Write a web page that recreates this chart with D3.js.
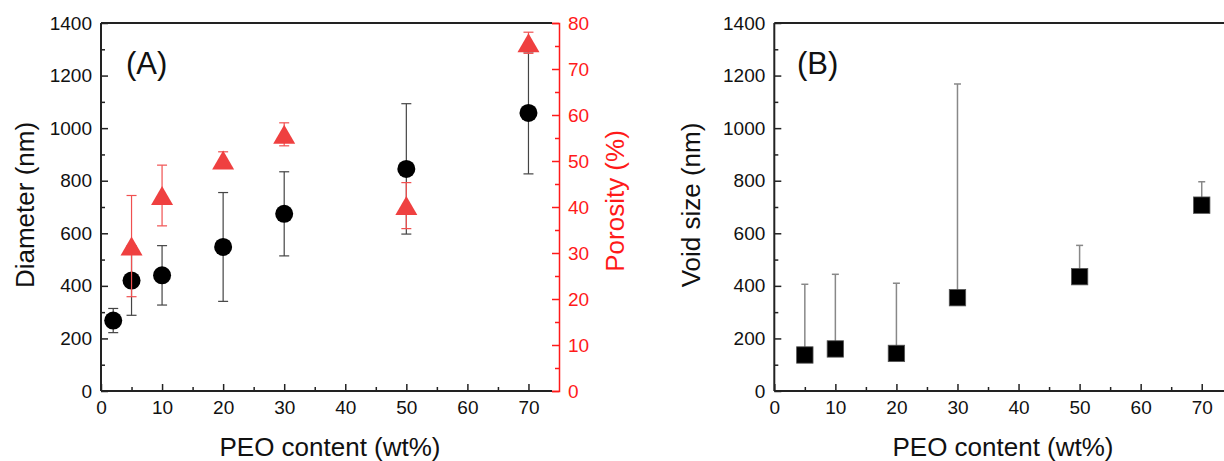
<!DOCTYPE html>
<html>
<head>
<meta charset="utf-8">
<script src="https://cdn.jsdelivr.net/npm/d3@7"></script>
<style>
  body { margin: 0; background: #fff; }
  text { font-family: "Liberation Sans", Arial, sans-serif; }
</style>
</head>
<body>
<svg id="chart" width="1224" height="461"></svg>
<script>
// PEO content (wt%) for each sample
var peo = [2, 5, 10, 20, 30, 50, 70];
var diameter = [268, 420, 440, 548, 674, 845, 1058];
var diameterSd = [46, 132, 113, 207, 160, 248, 232];

var porosityPeo = [5, 10, 20, 30, 50, 70];
var porosity = [31.5, 42.5, 50.2, 55.8, 40.3, 75.7];
var porositySd = [11, 6.6, 1.8, 2.5, 5, 2.3];

var voidPeo = [5, 10, 20, 30, 50, 70];
var voidSize = [137, 160, 143, 355, 435, 707];
var voidSd = [269, 284, 267, 813, 119, 89];

var xTicks = [0, 10, 20, 30, 40, 50, 60, 70];
var xMinor = [5, 15, 25, 35, 45, 55, 65];
var yTicks = [0, 200, 400, 600, 800, 1000, 1200, 1400];
var yMinor = [100, 300, 500, 700, 900, 1100, 1300];
var pTicks = [0, 10, 20, 30, 40, 50, 60, 70, 80];
var pMinor = [5, 15, 25, 35, 45, 55, 65, 75];

var svg = d3.select("#chart");
var red = "#ff1a1a";

function panel(left, right, frameRight, letter, yTitle, labelX, titleX, xTitleX) {
  var g = svg.append("g");
  var x = d3.scaleLinear().domain([0, 75]).range([left, right]);
  var y = d3.scaleLinear().domain([0, 1400]).range([391, 23]);

  g.append("g").attr("transform", "translate(0,391)")
    .call(d3.axisBottom(x).tickValues(xTicks).tickSize(-7).tickPadding(10).tickFormat(d3.format("d")));
  g.append("g").attr("transform", "translate(0,391)")
    .call(d3.axisBottom(x).tickValues(xMinor).tickSize(-4).tickFormat(""));
  g.append("g").attr("transform", "translate(" + left + ",0)")
    .call(d3.axisLeft(y).tickValues(yTicks).tickSize(-7).tickPadding(9).tickFormat(d3.format("d")));
  g.append("g").attr("transform", "translate(" + left + ",0)")
    .call(d3.axisLeft(y).tickSize(-4).tickValues(yMinor).tickFormat(""));

  g.selectAll(".domain").remove();
  g.selectAll(".tick line").attr("stroke", "#222").attr("stroke-width", 1.5);
  g.selectAll(".tick text").attr("font-size", 19).attr("fill", "#111");

  // frame: top, bottom, left
  [[left, 23, frameRight, 23], [left, 391, frameRight, 391], [left, 23, left, 391]].forEach(function (s) {
    g.append("line").attr("x1", s[0]).attr("y1", s[1]).attr("x2", s[2]).attr("y2", s[3])
      .attr("stroke", "#222").attr("stroke-width", 2);
  });

  g.append("text").attr("x", labelX).attr("y", 74).text(letter)
    .attr("font-family", "Lato, sans-serif").attr("font-size", 31).attr("fill", "#111");

  g.append("text").attr("transform", "translate(" + titleX + ",205) rotate(-90)")
    .attr("text-anchor", "middle").attr("font-size", 26).attr("fill", "#111").text(yTitle);

  g.append("text").attr("x", xTitleX).attr("y", 456)
    .attr("text-anchor", "middle").attr("font-size", 26).attr("fill", "#111")
    .text("PEO content (wt%)");
  return {g: g, x: x, y: y};
}

// ---- panel A ----
var A = panel(101, 559, 552, "(A)", "Diameter (nm)", 126, 34, 330);

var pY = d3.scaleLinear().domain([0, 80]).range([391, 23]);
var ra = A.g.append("g").attr("transform", "translate(559,0)")
  .call(d3.axisRight(pY).tickValues(pTicks).tickSize(-7).tickPadding(9));
var rm = A.g.append("g").attr("transform", "translate(559,0)")
  .call(d3.axisRight(pY).tickValues(pMinor).tickSize(-4).tickFormat(""));
rm.select(".domain").remove();
rm.selectAll(".tick line").attr("stroke", red).attr("stroke-width", 1.5);
ra.select(".domain").attr("stroke", red).attr("stroke-width", 1.5);
ra.selectAll(".tick line").attr("stroke", red).attr("stroke-width", 1.5);
ra.selectAll(".tick text").attr("fill", red).attr("font-size", 19);

A.g.append("text").attr("transform", "translate(624,201) rotate(-90)")
  .attr("text-anchor", "middle").attr("font-size", 26).attr("fill", red).text("Porosity (%)");

// diameter error bars + circles
var dErr = A.g.append("g").attr("stroke", "#444").attr("stroke-width", 1.2);
peo.forEach(function (p, i) {
  var cx = A.x(p), lo = A.y(diameter[i] - diameterSd[i]), hi = A.y(diameter[i] + diameterSd[i]);
  dErr.append("line").attr("x1", cx).attr("x2", cx).attr("y1", lo).attr("y2", hi);
  dErr.append("line").attr("x1", cx - 5).attr("x2", cx + 5).attr("y1", lo).attr("y2", lo);
  dErr.append("line").attr("x1", cx - 5).attr("x2", cx + 5).attr("y1", hi).attr("y2", hi);
});
A.g.append("g").selectAll("circle").data(peo).enter().append("circle")
  .attr("cx", function (d) { return A.x(d); })
  .attr("cy", function (d, i) { return A.y(diameter[i]); })
  .attr("r", 9).attr("fill", "#000");

// porosity error bars + triangles
var pErr = A.g.append("g").attr("stroke", "#f05050").attr("stroke-width", 1.2);
porosityPeo.forEach(function (p, i) {
  var cx = A.x(p), lo = pY(porosity[i] - porositySd[i]), hi = pY(porosity[i] + porositySd[i]);
  pErr.append("line").attr("x1", cx).attr("x2", cx).attr("y1", lo).attr("y2", hi);
  pErr.append("line").attr("x1", cx - 5).attr("x2", cx + 5).attr("y1", lo).attr("y2", lo);
  pErr.append("line").attr("x1", cx - 5).attr("x2", cx + 5).attr("y1", hi).attr("y2", hi);
});
A.g.append("g").selectAll("path").data(porosityPeo).enter().append("path")
  .attr("d", "M0,-9.5L11,9.5L-11,9.5Z")
  .attr("transform", function (d, i) { return "translate(" + A.x(d) + "," + pY(porosity[i]) + ")"; })
  .attr("fill", "#ef4040");

// ---- panel B ----
var B = panel(774.3, 774.3 + 75 * 6.106, 1240, "(B)", "Void size (nm)", 797, 700, 1003);

var vErr = B.g.append("g").attr("stroke", "#888").attr("stroke-width", 1.5);
voidPeo.forEach(function (p, i) {
  var cx = B.x(p), c = B.y(voidSize[i]), hi = B.y(voidSize[i] + voidSd[i]);
  vErr.append("line").attr("x1", cx).attr("x2", cx).attr("y1", c).attr("y2", hi);
  vErr.append("line").attr("x1", cx - 3.5).attr("x2", cx + 3.5).attr("y1", hi).attr("y2", hi);
});
B.g.append("g").selectAll("rect").data(voidPeo).enter().append("rect")
  .attr("x", function (d) { return B.x(d) - 8.2; })
  .attr("y", function (d, i) { return B.y(voidSize[i]) - 8.2; })
  .attr("width", 16.4).attr("height", 16.4)
  .attr("fill", "#000").attr("stroke", "#555").attr("stroke-width", 0.8);
</script>
</body>
</html>
